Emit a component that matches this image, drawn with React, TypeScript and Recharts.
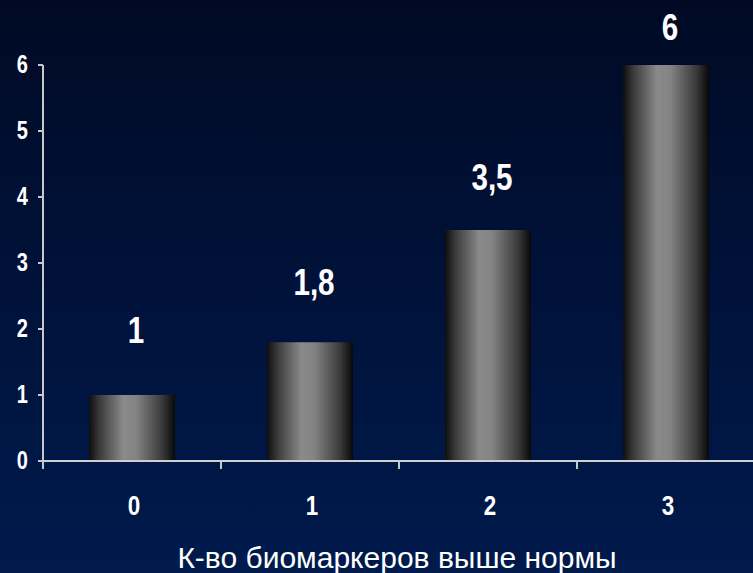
import React from "react";
import { BarChart, Bar, XAxis, YAxis, LabelList } from "recharts";

const categories = ["0", "1", "2", "3"];
const values = [1, 1.8, 3.5, 6];
const valueLabels = ["1", "1,8", "3,5", "6"];
const yTicks = [0, 1, 2, 3, 4, 5, 6];
const axisTitle = "К-во биомаркеров выше нормы";

const data = categories.map((c, i) => ({ cat: c, value: values[i], label: valueLabels[i] }));

const SANS = "'Liberation Sans', Arial, sans-serif";
const labelOffsets = [65, 60, 53, 38];
const X_TICK_SIZE = 8;
const X_TICK_MARGIN = 36;

const NarrowText = ({ x, y, children, size, anchor, baseline }: any) => (
  <g transform={`translate(${x},${y}) scale(0.8,1)`}>
    <text
      x={0}
      y={0}
      textAnchor={anchor}
      dominantBaseline={baseline}
      fill="#ffffff"
      fontFamily={SANS}
      fontWeight="bold"
      fontSize={size}
    >
      {children}
    </text>
  </g>
);

const renderLabel = (props: any) => {
  const { x, y, width, index } = props;
  const off = labelOffsets[index] ?? 50;
  return (
    <NarrowText x={x + width / 2 + 4} y={y - off} size={37} anchor="middle" baseline="central">
      {valueLabels[index]}
    </NarrowText>
  );
};

const YTick = (props: any) => {
  const { x, y, payload } = props;
  return (
    <NarrowText x={x} y={y} size={25} anchor="end" baseline="central">
      {payload.value}
    </NarrowText>
  );
};

const XTick = (props: any) => {
  const { x, y, payload } = props;
  const half = payload && payload.offset ? payload.offset : 0;
  const axisY = y - X_TICK_MARGIN - X_TICK_SIZE;
  return (
    <g>
      {half > 0 && (
        <line
          x1={x - half}
          x2={x - half}
          y1={axisY}
          y2={axisY + X_TICK_SIZE}
          stroke="#c8c8c8"
          strokeWidth={2}
        />
      )}
      <NarrowText x={x + 2} y={y} size={28} anchor="middle" baseline="central">
        {payload.value}
      </NarrowText>
    </g>
  );
};

export default function App() {
  return (
    <div
      style={{
        position: "absolute",
        left: 0,
        top: 0,
        width: 753,
        height: 573,
        overflow: "hidden",
        background: "linear-gradient(180deg, #000a24 0%, #00123a 50%, #001a4c 100%)",
      }}
    >
      <BarChart
        width={755}
        height={573}
        data={data}
        margin={{ top: 65, right: 0, bottom: 0, left: 0 }}
        barCategoryGap={46}
      >
        <defs>
          <linearGradient id="barGrad" x1="0" y1="0" x2="1" y2="0">
            <stop offset="0%" stopColor="#0e0e0e" />
            <stop offset="12%" stopColor="#3a3a3a" />
            <stop offset="40%" stopColor="#8a8a8a" />
            <stop offset="55%" stopColor="#838383" />
            <stop offset="85%" stopColor="#3a3a3a" />
            <stop offset="100%" stopColor="#080808" />
          </linearGradient>
        </defs>
        <XAxis
          dataKey="cat"
          axisLine={{ stroke: "#d0d0d0", strokeWidth: 2 }}
          tickLine={false}
          tickSize={X_TICK_SIZE}
          tickMargin={X_TICK_MARGIN}
          height={112}
          tick={XTick}
          label={{
            value: axisTitle,
            position: "insideBottom",
            offset: 0,
            dx: -2,
            dy: -5,
            fill: "#ffffff",
            fontSize: 30,
            fontFamily: SANS,
          }}
        />
        <YAxis
          domain={[0, 6]}
          ticks={yTicks}
          width={43}
          axisLine={{ stroke: "#c8c8c8", strokeWidth: 2 }}
          tickLine={{ stroke: "#c8c8c8", strokeWidth: 2 }}
          tickSize={5}
          tickMargin={10}
          tick={YTick}
        />
        <Bar dataKey="value" fill="url(#barGrad)" isAnimationActive={false}>
          <LabelList dataKey="label" content={renderLabel} />
        </Bar>
      </BarChart>
    </div>
  );
}
